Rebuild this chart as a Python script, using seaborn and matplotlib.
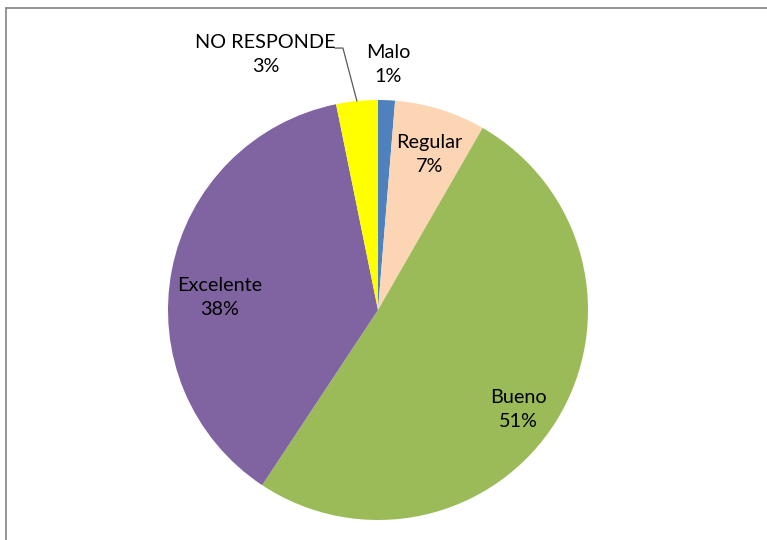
import numpy as np
import matplotlib
matplotlib.use("Agg")
import matplotlib.pyplot as plt
from matplotlib.lines import Line2D
import seaborn as sns

# Survey answers, clockwise from 12 o'clock
categories = ["Malo", "Regular", "Bueno", "Excelente", "NO RESPONDE"]
shares = [1.3, 7.0, 51.0, 37.5, 3.2]
colors = ["#4F81BD", "#FCD5B5", "#9BBB59", "#8064A2", "#FFFF00"]

# label placement: distance from centre (in radii) and angular nudge (degrees, clockwise)
label_dist = [1.17, 0.78, 0.82, 0.755, 1.33]
label_shift = [0.0, 1.0, 3.5, -6.5, -18.0]

sns.set_theme(style="white")
plt.rcParams["font.family"] = ["Lato", "DejaVu Sans"]

W, H, DPI = 767, 540, 100
fig = plt.figure(figsize=(W / DPI, H / DPI), dpi=DPI)
ax = fig.add_axes([0, 0, 1, 1])

wedges, _ = ax.pie(shares, colors=colors, startangle=90, counterclock=False,
                   radius=1.0, wedgeprops=dict(linewidth=0))

# place the unit circle: centre and radius in pixels
R_PX = 210.0
cx, cy = 378.0, 310.0
ax.set_aspect("auto")
ax.set_xlim(-cx / R_PX, (W - cx) / R_PX)
ax.set_ylim(-(H - cy) / R_PX, cy / R_PX)
ax.axis("off")

total = float(sum(shares))
cum = 0.0
for name, val, d, s in zip(categories, shares, label_dist, label_shift):
    mid = (cum + val / 2) / total * 360.0 + s
    cum += val
    th = np.deg2rad(90 - mid)
    x, y = d * np.cos(th), d * np.sin(th)
    ax.text(x, y, f"{name}\n{val / total * 100:.0f}%", ha="center", va="center",
            fontsize=14.3, color="#000000", linespacing=1.5)

# leader line for the small "NO RESPONDE" slice
nr_mid = (total - shares[-1] / 2) / total * 360.0
th = np.deg2rad(90 - nr_mid)
p0 = (np.cos(th), np.sin(th))
p1 = (p0[0] - 14 / R_PX, p0[1] + 53 / R_PX)
p2 = (p1[0] - 8 / R_PX, p1[1])
ax.plot([p0[0], p1[0], p2[0]], [p0[1], p1[1], p2[1]], color="#595959", lw=0.9)

# chart-area frame (top and left edges)
fx0 = 6 / W
fy0 = 1 - 8 / H
fig.add_artist(Line2D([fx0, 1.0], [fy0, fy0], transform=fig.transFigure,
                      color="#8C8C8C", lw=1.3))
fig.add_artist(Line2D([fx0, fx0], [0.0, fy0], transform=fig.transFigure,
                      color="#8C8C8C", lw=1.3))

fig.savefig("out.png", dpi=DPI, facecolor="white")
